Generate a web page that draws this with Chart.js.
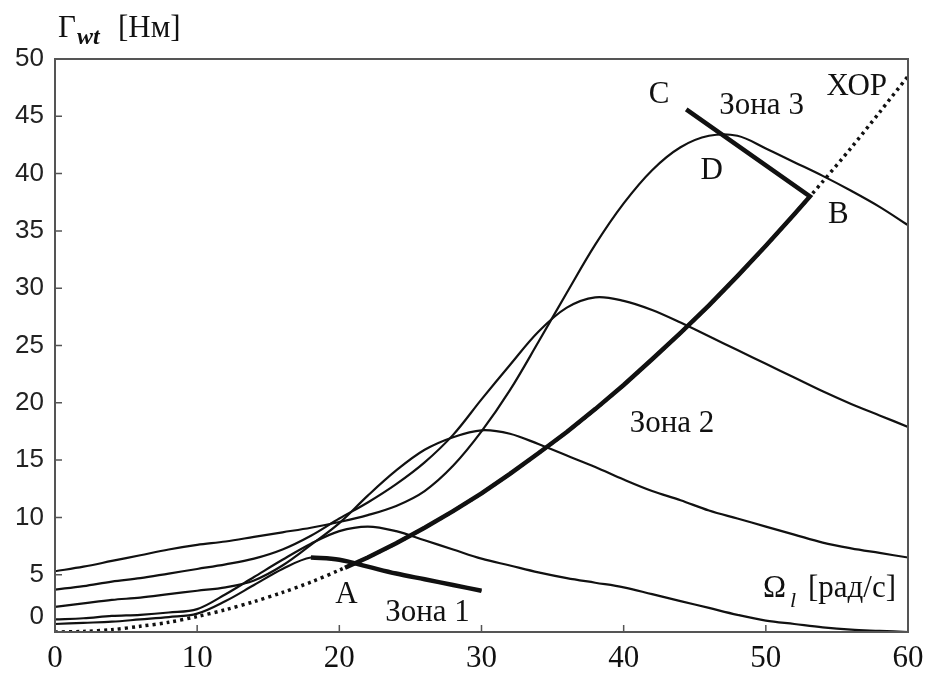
<!DOCTYPE html>
<html>
<head>
<meta charset="utf-8">
<script src="https://cdn.jsdelivr.net/npm/chart.js@4.4.1/dist/chart.umd.min.js"></script>
<style>
  html, body { margin: 0; padding: 0; background: #fff; }
  canvas { display: block; }
</style>
</head>
<body>
<canvas id="torque" width="927" height="675"></canvas>
<script>
// rotor speed, rad/s
var omega = [0, 2, 4, 6, 8, 10, 12, 14, 16, 18, 20, 22, 24, 26, 28, 30,
             32, 34, 36, 38, 40, 42, 44, 46, 48, 50, 52, 54, 56, 58, 60];

// torque curves, N*m (lowest wind speed first)
var torqueV1 = [0.7, 0.8, 0.9, 1.1, 1.3, 1.6, 2.7, 4.1, 5.5, 6.5, 6.3, 5.7, 5.1, 4.6, 4.1, 3.6];
var torqueV2 = [1.1, 1.2, 1.4, 1.5, 1.7, 2.0, 3.3, 4.8, 6.3, 7.7, 8.8, 9.2, 8.8, 8.0, 7.2, 6.4,
                5.8, 5.2, 4.7, 4.3, 3.9, 3.3, 2.7, 2.1, 1.5, 1.0, 0.7, 0.4, 0.2, 0.1, 0];
var torqueV3 = [2.2, 2.5, 2.8, 3.0, 3.3, 3.6, 3.9, 4.5, 5.8, 7.6, 9.5, 11.9, 14.1, 15.9, 17.0, 17.6,
                17.3, 16.4, 15.4, 14.4, 13.3, 12.3, 11.5, 10.6, 9.9, 9.2, 8.5, 7.8, 7.3, 6.9, 6.5];
var torqueV4 = [3.7, 4.0, 4.4, 4.7, 5.1, 5.5, 5.9, 6.4, 7.2, 8.4, 9.9, 11.3, 12.9, 14.8, 17.2, 20.3,
                23.3, 26.2, 28.3, 29.2, 28.9, 28.1, 27.0, 25.8, 24.6, 23.4, 22.2, 21.0, 19.9, 18.9, 17.9];
var torqueV5 = [5.3, 5.7, 6.2, 6.7, 7.2, 7.6, 7.9, 8.3, 8.7, 9.1, 9.6, 10.2, 11.0, 12.3, 14.5, 17.5,
                21.1, 25.3, 29.6, 33.8, 37.4, 40.3, 42.3, 43.3, 43.3, 42.2, 41.0, 39.8, 38.5, 37.1, 35.5];

// optimal regime characteristic (ХОР)
var torqueXop = [0, 0.05, 0.2, 0.5, 0.85, 1.35, 1.95, 2.65, 3.45, 4.35, 5.4, 6.5, 7.75, 9.1, 10.55, 12.1,
                 13.8, 15.6, 17.45, 19.45, 21.55, 23.8, 26.1, 28.5, 31.05, 33.7, 36.45, 39.3, 42.25, 45.35, 48.5];

// control points A, B, C  [omega, torque]
var pointA = [20.4, 5.6];
var pointB = [53.1, 38.0];
var pointC = [44.4, 45.6];

// zone 1 thick part runs along the lowest curve
var zone1From = 18, zone1To = 30;

function pairs(xs, ys) {
  var out = [];
  for (var i = 0; i < ys.length; i++) {
    if (ys[i] !== null) out.push({x: xs[i], y: ys[i]});
  }
  return out;
}

var zone1 = pairs(omega, torqueV1).filter(function (p) { return p.x >= zone1From && p.x <= zone1To; });
var pathAB = [{x: pointA[0], y: pointA[1]}]
  .concat(pairs(omega, torqueXop).filter(function (p) { return p.x > pointA[0] && p.x < pointB[0]; }))
  .concat([{x: pointB[0], y: pointB[1]}, {x: pointC[0], y: pointC[1]}]);

var ink = '#111';
function thin(data) {
  return {data: data, borderColor: ink, borderWidth: 2.2, pointRadius: 0,
          tension: 0.35, fill: false};
}

var notes = [
  {t: 'A', x: 20.5, y: 3.4},
  {t: 'Зона 1', x: 26.2, y: 1.8},
  {t: 'Зона 2', x: 43.4, y: 18.3},
  {t: 'C', x: 42.5, y: 47.0},
  {t: 'Зона 3', x: 49.7, y: 46.1},
  {t: 'D', x: 46.2, y: 40.4},
  {t: 'B', x: 55.1, y: 36.6},
  {t: 'ХОР', x: 56.4, y: 47.7}
];

var serif = '"Liberation Serif", "Times New Roman", serif';

var decor = {
  id: 'decor',
  afterDraw: function (chart) {
    var ctx = chart.ctx, a = chart.chartArea, sx = chart.scales.x, sy = chart.scales.y;
    ctx.save();
    ctx.strokeStyle = '#555';
    ctx.lineWidth = 2;
    ctx.strokeRect(a.left, a.top, a.right - a.left, a.bottom - a.top);

    ctx.lineWidth = 1.5;
    ctx.beginPath();
    sx.ticks.forEach(function (t) {
      if (t.value <= sx.min || t.value >= sx.max) return;
      var px = sx.getPixelForValue(t.value);
      ctx.moveTo(px, a.bottom); ctx.lineTo(px, a.bottom - 7);
    });
    sy.ticks.forEach(function (t) {
      if (t.value <= sy.min || t.value >= sy.max) return;
      var py = sy.getPixelForValue(t.value);
      ctx.moveTo(a.left, py); ctx.lineTo(a.left + 7, py);
    });
    ctx.stroke();

    ctx.fillStyle = ink;
    ctx.textAlign = 'center';
    ctx.textBaseline = 'alphabetic';
    ctx.font = '31px ' + serif;
    notes.forEach(function (n) {
      ctx.fillText(n.t, sx.getPixelForValue(n.x), sy.getPixelForValue(n.y) + 10);
    });

    // y axis title
    ctx.textAlign = 'left';
    ctx.font = '31px ' + serif;
    ctx.fillText('Γ', a.left + 3, a.top - 22);
    ctx.font = 'italic bold 24px ' + serif;
    ctx.fillText('wt', a.left + 22, a.top - 15);
    ctx.font = '31px ' + serif;
    ctx.fillText('[Нм]', a.left + 63, a.top - 22);

    // x axis title
    ctx.fillText('Ω', a.right - 145, a.bottom - 35);
    ctx.font = 'italic 22px ' + serif;
    ctx.fillText('l', a.right - 118, a.bottom - 25);
    ctx.font = '31px ' + serif;
    ctx.fillText('[рад/с]', a.right - 100, a.bottom - 35);
    ctx.restore();
  }
};

var config = {
  type: 'line',
  data: {
    datasets: [
      thin(pairs(omega, torqueV1)),
      thin(pairs(omega, torqueV2)),
      thin(pairs(omega, torqueV3)),
      thin(pairs(omega, torqueV4)),
      thin(pairs(omega, torqueV5)),
      {data: pairs(omega, torqueXop), borderColor: ink, borderWidth: 3.5, borderDash: [3, 4],
       pointRadius: 0, tension: 0.3, fill: false},
      {data: zone1, borderColor: ink, borderWidth: 4.5, pointRadius: 0,
       tension: 0.35, fill: false},
      {data: pathAB, borderColor: ink, borderWidth: 4.5, pointRadius: 0, tension: 0, fill: false}
    ]
  },
  options: {
    responsive: false,
    animation: false,
    layout: {padding: {top: 59, right: 19, left: 0, bottom: 0}},
    plugins: {legend: {display: false}, tooltip: {enabled: false}},
    scales: {
      x: {
        type: 'linear', min: 0, max: 60,
        afterFit: function (s) { s.height = 43; s.paddingLeft = 0; s.paddingRight = 0; },
        grid: {display: false, drawTicks: false},
        border: {display: false},
        ticks: {stepSize: 10, padding: 8, autoSkip: false, color: ink, font: {family: serif, size: 31}}
      },
      y: {
        min: 0, max: 50,
        afterFit: function (s) { s.width = 55; s.paddingTop = 0; s.paddingBottom = 0; },
        grid: {display: false, drawTicks: false},
        border: {display: false},
        ticks: {
          stepSize: 5, padding: 11, autoSkip: false, color: '#222',
          font: {family: '"Liberation Sans", Arial, sans-serif', size: 26},
          callback: function (v) { return v === 0 ? ['0', ''] : String(v); }
        }
      }
    }
  },
  plugins: [decor]
};

window.onload = function () {
  var ctx = document.getElementById('torque').getContext('2d');
  window.torqueChart = new Chart(ctx, config);
};
</script>
</body>
</html>
